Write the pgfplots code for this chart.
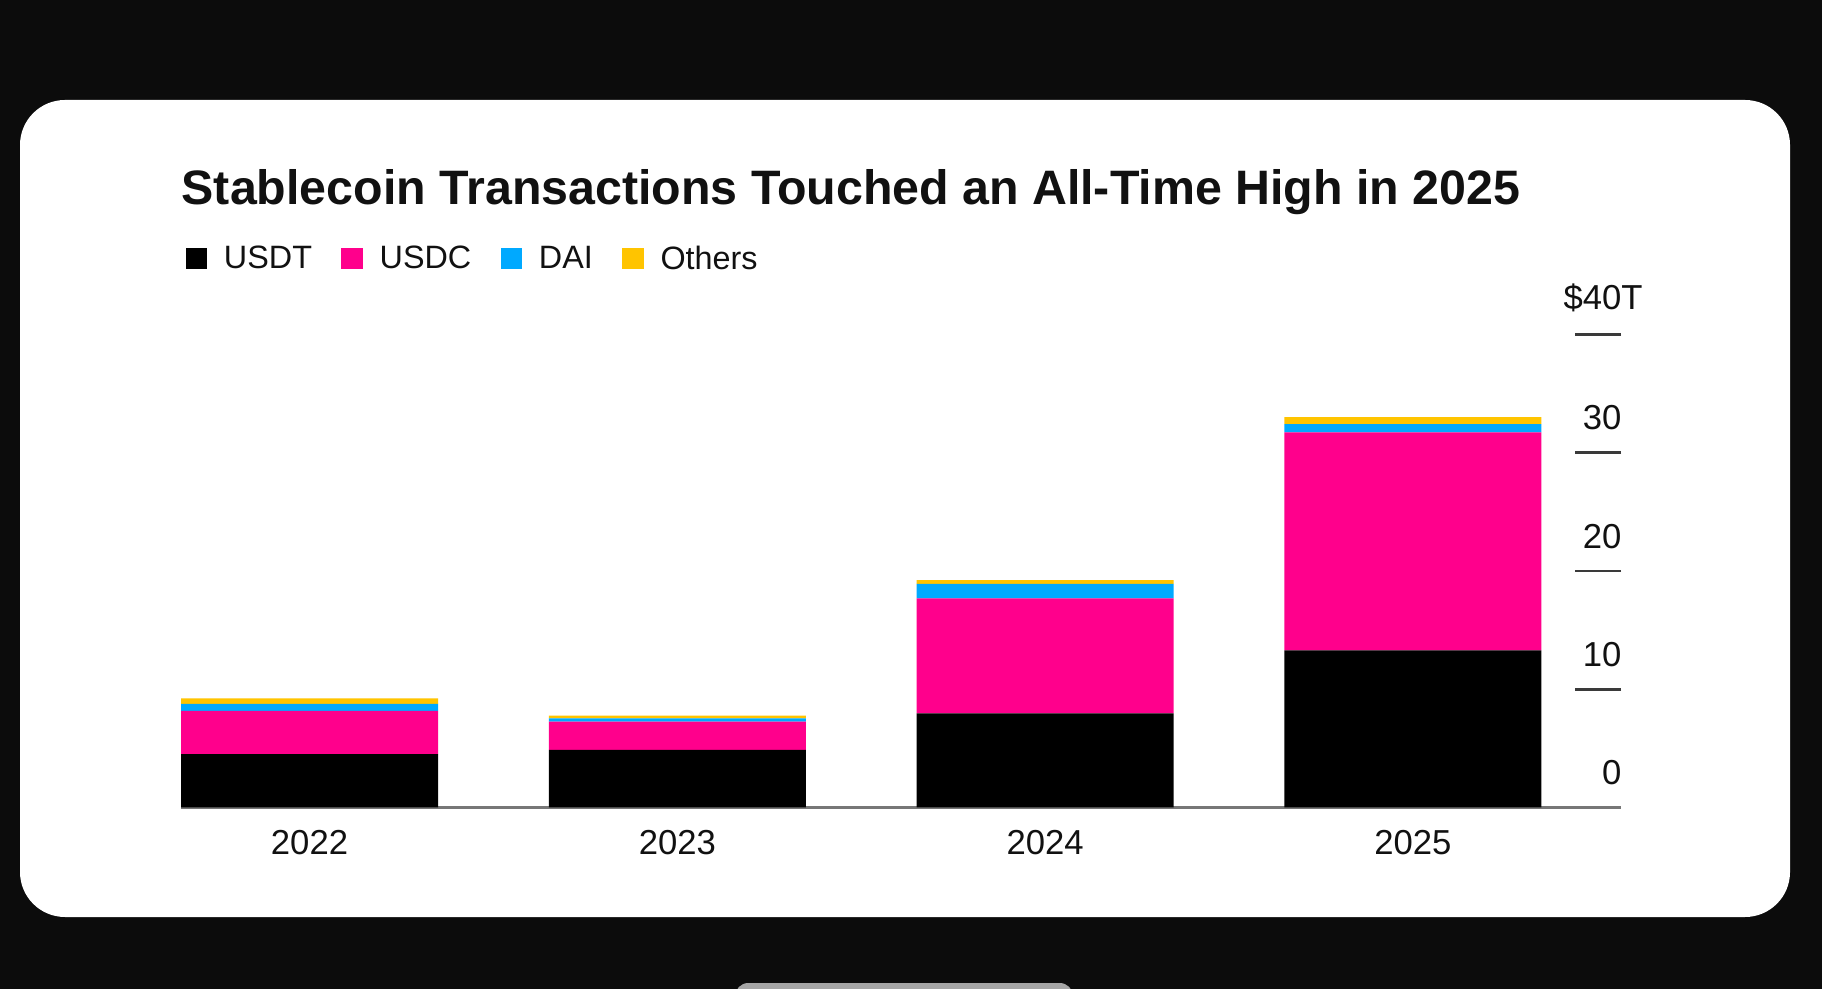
\documentclass[border=0pt]{standalone}
\usepackage{fontspec}
\setmainfont{Liberation Sans}
\usepackage{pgfplots}
\pgfplotsset{compat=1.18}
\usepackage{pgfplotstable}

\definecolor{usdt}{HTML}{000000}
\definecolor{usdc}{HTML}{FF008C}
\definecolor{dai}{HTML}{00A9FF}
\definecolor{others}{HTML}{FFC400}
\definecolor{pagebg}{HTML}{0C0C0C}
\definecolor{baseline}{HTML}{777777}
\definecolor{tickgray}{HTML}{3A3A3A}
\definecolor{ink}{HTML}{111111}

% stablecoin transaction volume, trillions of dollars
\pgfplotstableread{
x  year usdt  usdc  dai  others
0  2022 4.52  3.64  0.59 0.48
1  2023 4.86  2.39  0.28 0.23
2  2024 7.96  9.72  1.22 0.33
3  2025 13.28 18.42 0.70 0.60
}\stablecoins

\begin{document}
\begin{tikzpicture}[x=0.3pt,y=0.3pt]
% one unit = one pixel of the reference, y negative downwards
\useasboundingbox (0,0) rectangle (1822,-989);
\fill[pagebg] (0,0) rectangle (1822,-989);
\fill[white, rounded corners=13.5pt] (20,-100) rectangle (1790,-917);
\fill[gray!70, rounded corners=4pt] (735,-983) rectangle (1073,-1010);

\node[anchor=base west, inner sep=0pt, text=ink,
      font=\fontsize{14.5}{16}\selectfont\bfseries] at (181,-205)
  {Stablecoin Transactions Touched an All-Time High in 2025};

\begin{axis}[
  at={(54.3pt,-242.25pt)}, anchor=south west,
  scale only axis, width=432pt, height=141.96pt,
  ybar stacked, bar width=0.699,
  xmin=-0.3494, xmax=3.5658, ymin=0, ymax=40,
  axis x line*=bottom, axis y line*=right,
  x axis line style={draw=baseline, line width=0.7pt, -},
  y axis line style={draw=none},
  xtick={0,1,2,3}, xticklabels={2022,2023,2024,2025},
  major x tick style={draw=none},
  xticklabel style={anchor=north, inner sep=0pt, yshift=-6.75pt, text=ink,
    font=\fontsize{10.4}{12}\selectfont},
  ytick={10,20,30,40}, yticklabels={10,20,30,\$40\rlap{T}},
  extra y ticks={0}, extra y tick labels={0},
  extra y tick style={major tick length=0pt},
  tick align=inside, major tick length=13.8pt,
  major y tick style={draw=tickgray, line width=0.8pt},
  yticklabel style={anchor=south east, inner sep=0pt, xshift=0.3pt,
    yshift=6.5pt, text=ink, font=\fontsize{10.4}{12}\selectfont},
  /pgf/number format/assume math mode=true,
  legend columns=4,
  legend style={at={(axis description cs:0.00278,1.1887)}, anchor=north west,
    draw=none, fill=none, inner sep=0pt, text=ink,
    font=\fontsize{9.7}{11}\selectfont, nodes={inner sep=0pt},
    /tikz/every odd column/.append style={column sep=5.1pt},
    /tikz/every even column/.append style={column sep=8.8pt}},
  legend image code/.code={\fill[#1] (0pt,-2.8pt) rectangle (6.4pt,3.6pt);},
]
\addplot[fill=usdt, draw=none] table[x=x, y=usdt] {\stablecoins};
\addlegendentry{USDT}
\addplot[fill=usdc, draw=none] table[x=x, y=usdc] {\stablecoins};
\addlegendentry{USDC}
\addplot[fill=dai, draw=none] table[x=x, y=dai] {\stablecoins};
\addlegendentry{DAI}
\addplot[fill=others, draw=none] table[x=x, y=others] {\stablecoins};
\addlegendentry{Others}
\end{axis}
\end{tikzpicture}
\end{document}
